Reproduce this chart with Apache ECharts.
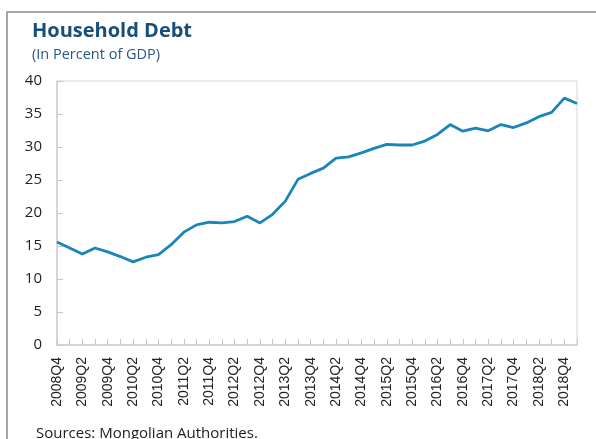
<!DOCTYPE html>
<html>
<head>
<meta charset="utf-8">
<script src="https://cdn.jsdelivr.net/npm/echarts@6/dist/echarts.min.js"></script>
<style>html,body{margin:0;padding:0;background:#fff;}#c{width:596px;height:439px;}</style>
</head>
<body>
<div id="c"></div>
<script>
const titleText = "Household Debt";
const subtitleText = "(In Percent of GDP)";
const sourceText = "Sources: Mongolian Authorities.";
const categories = [
  "2008Q4",
  "2009Q1","2009Q2","2009Q3","2009Q4",
  "2010Q1","2010Q2","2010Q3","2010Q4",
  "2011Q1","2011Q2","2011Q3","2011Q4",
  "2012Q1","2012Q2","2012Q3","2012Q4",
  "2013Q1","2013Q2","2013Q3","2013Q4",
  "2014Q1","2014Q2","2014Q3","2014Q4",
  "2015Q1","2015Q2","2015Q3","2015Q4",
  "2016Q1","2016Q2","2016Q3","2016Q4",
  "2017Q1","2017Q2","2017Q3","2017Q4",
  "2018Q1","2018Q2","2018Q3","2018Q4",
  "2019Q1"
];
const householdDebt = [
  15.6,
  14.7, 13.8, 14.7, 14.1,
  13.4, 12.6, 13.3, 13.7,
  15.2, 17.1, 18.2, 18.6,
  18.5, 18.7, 19.5, 18.5,
  19.8, 21.8, 25.1, 26.0,
  26.8, 28.3, 28.5, 29.1,
  29.8, 30.4, 30.3, 30.3,
  30.9, 31.9, 33.4, 32.4,
  32.85, 32.45, 33.4, 32.95,
  33.65, 34.6, 35.25, 37.4,
  36.6
];
const yMin = 0, yMax = 40, yStep = 5;

const chart = echarts.init(document.getElementById('c'), null, {renderer: 'canvas'});
const font = "'Open Sans', 'Noto Sans', sans-serif";
const tickFont = "'Liberation Sans', Arial, sans-serif";
chart.setOption({
  animation: false,
  backgroundColor: '#ffffff',
  graphic: [
    {type: 'rect', shape: {x: 7, y: 12, width: 620, height: 460},
     style: {fill: 'none', stroke: '#a6a6a6', lineWidth: 2}, z: -1},
    {type: 'text', left: 36, top: 426,
     style: {text: sourceText, font: "15px " + font, fill: '#222222'}}
  ],
  title: {
    text: titleText,
    subtext: subtitleText,
    left: 27, top: 16,
    itemGap: 6,
    textStyle: {fontFamily: font, fontSize: 20, fontWeight: 'bold', color: '#174e7a'},
    subtextStyle: {fontFamily: font, fontSize: 14.5, color: '#2a5687'}
  },
  grid: {left: 57, right: 19, top: 81, bottom: 94, show: true,
         borderColor: '#d4d4d4', borderWidth: 1, containLabel: false},
  xAxis: {
    type: 'category',
    data: categories,
    boundaryGap: false,
    axisLine: {show: true, lineStyle: {color: '#cfcfcf', width: 1.5}},
    axisTick: {show: true, inside: true, length: 6, interval: 0, alignWithLabel: true,
               lineStyle: {color: '#c8c8c8'}},
    axisLabel: {interval: 1, rotate: 90, fontFamily: tickFont, fontSize: 14, color: '#222222', margin: 12},
    splitLine: {show: false}
  },
  yAxis: {
    type: 'value',
    min: yMin, max: yMax, interval: yStep,
    axisLine: {show: true, lineStyle: {color: '#cfcfcf', width: 1.5}},
    axisTick: {show: true, inside: true, length: 6, lineStyle: {color: '#c8c8c8'}},
    axisLabel: {fontFamily: font, fontSize: 15, color: '#222222', margin: 15},
    splitLine: {show: false}
  },
  series: [{
    type: 'line',
    data: householdDebt,
    symbol: 'none',
    lineStyle: {color: '#1a85b8', width: 2.8},
    itemStyle: {color: '#1a85b8'}
  }]
});
</script>
</body>
</html>
